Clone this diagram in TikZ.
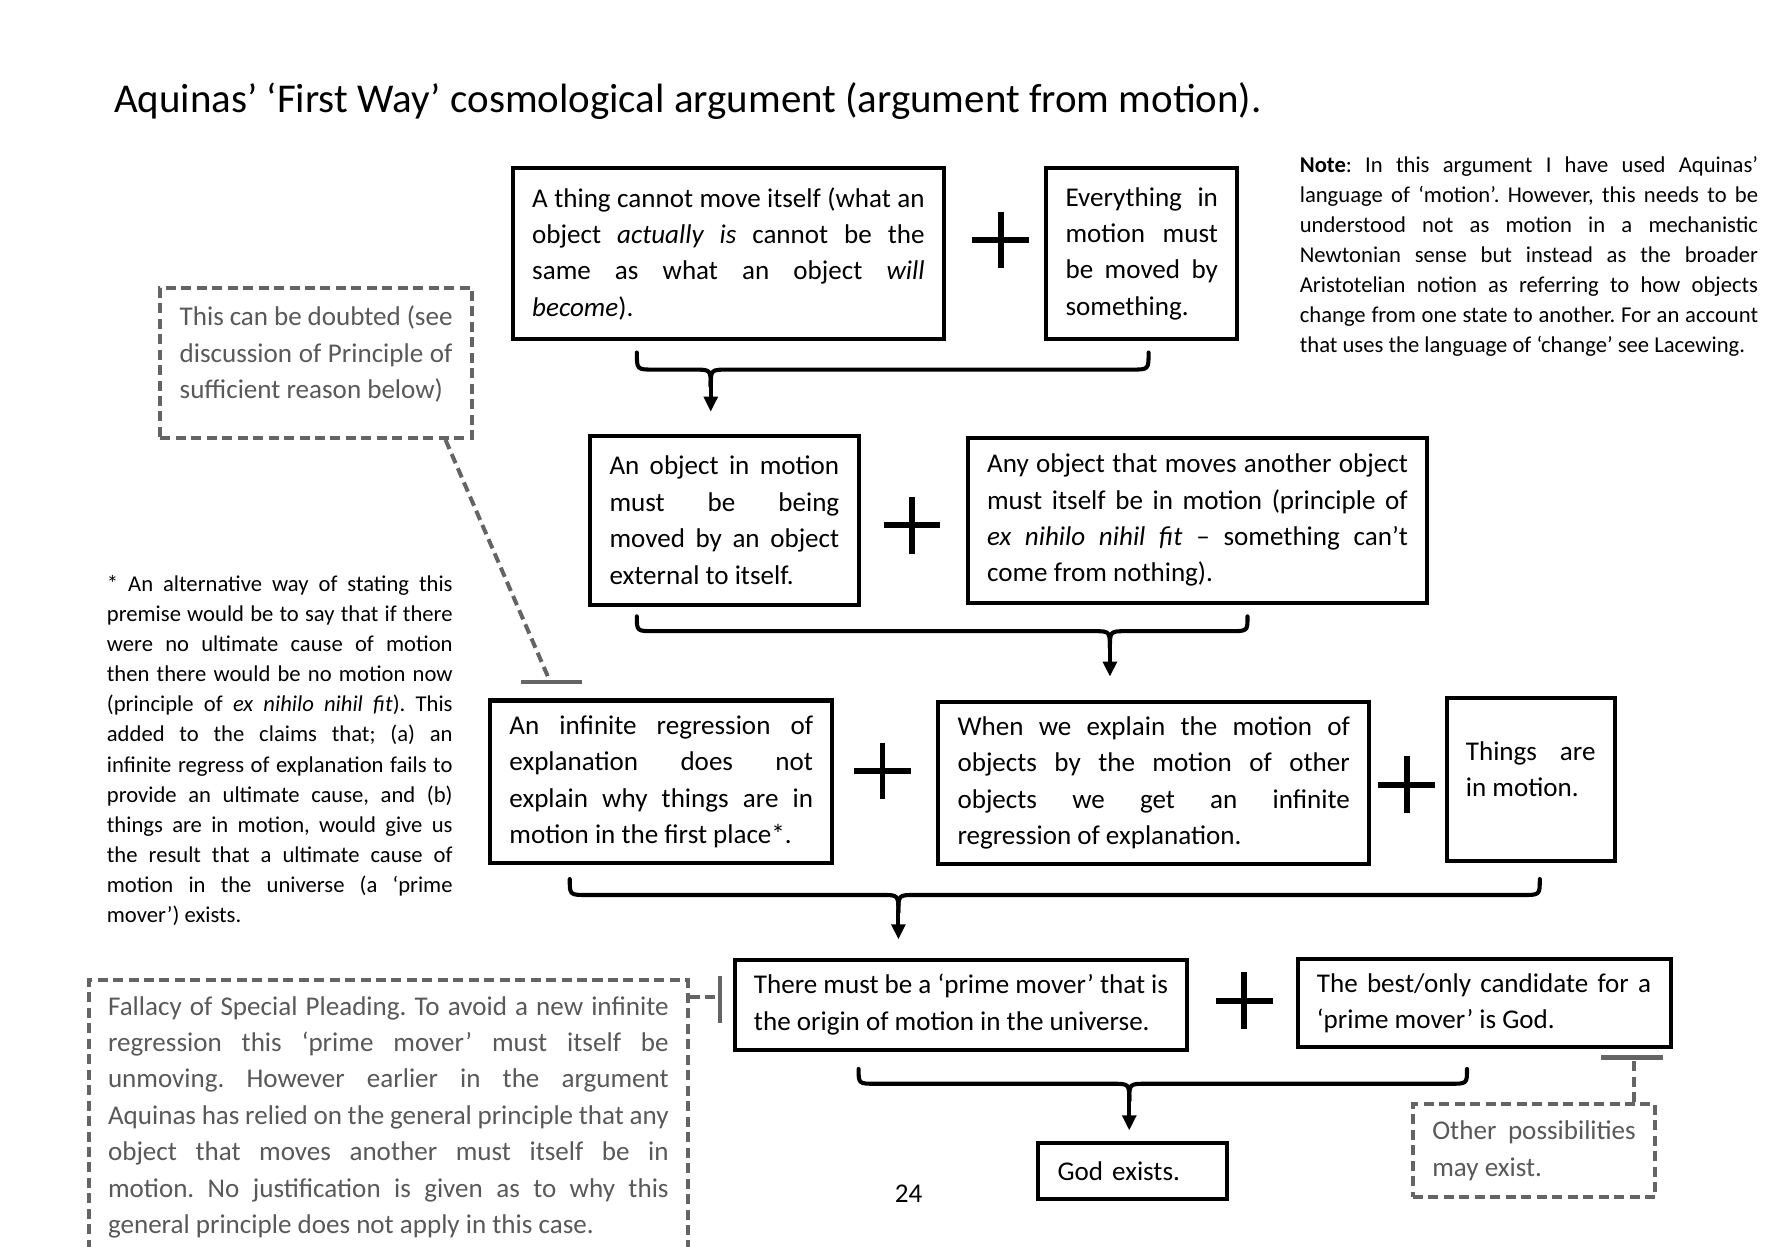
\documentclass[tikz,border=0pt]{standalone}
\usepackage{fontspec}
\setmainfont{Carlito}
\usetikzlibrary{arrows.meta,calc}
\definecolor{dg}{RGB}{89,89,89}
\definecolor{dl}{RGB}{100,100,100}
\newcommand\bodyfont{\fontsize{11.9pt}{16pt}\selectfont}
\newcommand\smallfont{\fontsize{9.95pt}{13.25pt}\selectfont}
\newcommand\titlefont{\fontsize{18pt}{21pt}\selectfont}
\newcommand\mybrace[6]{% xL xR yTop yMid xC yTip
  \draw[bracestyle] (#1,#3) .. controls (#1,#4) .. ($(#1,#4)+(15,0)$) -- ($(#5,#4)+(-15,0)$) .. controls (#5,#4) .. ($(#5,#4)+(0,15)$);
  \draw[bracestyle] (#2,#3) .. controls (#2,#4) .. ($(#2,#4)+(-15,0)$) -- ($(#5,#4)+(15,0)$) .. controls (#5,#4) .. ($(#5,#4)+(0,15)$);
  \draw[bracestyle,-{Triangle[length=6.6pt,width=6pt]}] ($(#5,#4)+(0,14)$) -- (#5,#6);
}
\newcommand\myplus[2]{%
  \draw[plusstyle] ($(#1,#2)+(-25,0)$) -- ($(#1,#2)+(25,0)$);
  \draw[plusstyle] ($(#1,#2)+(0,-25)$) -- ($(#1,#2)+(0,25)$);
}
\tolerance=10000
\hbadness=10000
\vbadness=10000
\hyphenpenalty=10000
\exhyphenpenalty=10000
\parindent=0pt
\frenchspacing
\begin{document}
\frenchspacing
\begin{tikzpicture}[x=0.5pt,y=-0.5pt,
  box/.style={draw=black, line width=1.8pt, inner xsep=8.5pt, inner ysep=0pt, align=justify, font=\bodyfont\frenchspacing},
  dbox/.style={draw=dl, dash pattern=on 4.4pt off 2.4pt, line width=1.75pt, inner xsep=8.5pt, inner ysep=0pt, align=justify, text=dg, font=\bodyfont\frenchspacing},
  plain/.style={inner sep=0pt, align=justify, font=\smallfont\frenchspacing},
  bracestyle/.style={line width=1.8pt, line cap=round, line join=round},
  plusstyle/.style={line width=2.6pt},
  dconn/.style={draw=dl, dash pattern=on 4.4pt off 2.4pt, line width=1.75pt},
  tbar/.style={draw=dl, line width=1.9pt}
]
\fill[white] (0,0) rectangle (1567,1096);
\useasboundingbox (0,0) rectangle (1567,1096);
\clip (0,0) rectangle (1567,1096);

% title
\node[inner sep=0pt, anchor=base west, font=\titlefont] (title) at (100,99)
  {Aquinas’ ‘First Way’ cosmological argument (argument from motion).};

% note
\node[plain, text width=201.5pt] (note) at (1344.5,225.5)
  {\textbf{Note}: In this argument I have used Aquinas’\linebreak
   language of ‘motion’. However, this needs to be\linebreak
   understood not as motion in a mechanistic\linebreak
   Newtonian sense but instead as the broader\linebreak
   Aristotelian notion as referring to how objects\linebreak
   change from one state to another. For an account\linebreak
   that uses the language of ‘change’ see Lacewing.};

% footnote
\node[plain, text width=152pt] (foot) at (246,660)
  {* An alternative way of stating this\linebreak
   premise would be to say that if there\linebreak
   were no ultimate cause of motion\linebreak
   then there would be no motion now\linebreak
   (principle of \textit{ex nihilo nihil fit}). This\linebreak
   added to the claims that; (a) an\linebreak
   infinite regress of explanation fails to\linebreak
   provide an ultimate cause, and (b)\linebreak
   things are in motion, would give us\linebreak
   the result that a ultimate cause of\linebreak
   motion in the universe (a ‘prime\linebreak
   mover’) exists.};

% row 1
\node[box, text width=172.5pt, minimum height=75pt] (b1) at (640.5,223)
  {A thing cannot move itself (what an\linebreak
   object \textit{actually is} cannot be the\linebreak
   same as what an object \textit{will}\linebreak
   \textit{become}).};
\node[box, text width=67pt, minimum height=75pt] (b2) at (1004,223)
  {Everything in\linebreak motion must\linebreak be moved by\linebreak something.};
\myplus{880}{211}
\mybrace{560}{1010}{310}{325}{625}{362}

% row 2
\node[box, text width=101pt, minimum height=74.5pt] (b3) at (637,457.5)
  {An object in motion\linebreak must be being\linebreak moved by an object\linebreak external to itself.};
\node[box, text width=185pt, minimum height=72.5pt] (b4) at (1053,457.5)
  {Any object that moves another object\linebreak
   must itself be in motion (principle of\linebreak
   \textit{ex nihilo nihil fit} – something can’t\linebreak
   come from nothing).};
\myplus{802}{462}
\mybrace{560}{1097}{542}{555}{976}{595}

% row 3
\node[box, text width=133.5pt, minimum height=71.5pt] (b5) at (581.5,687.5)
  {An infinite regression of\linebreak explanation does not\linebreak explain why things are in\linebreak motion in the first place*.};
\node[box, text width=172.5pt, minimum height=71.5pt] (b6) at (1014.5,688.5)
  {When we explain the motion of\linebreak objects by the motion of other\linebreak objects we get an infinite\linebreak regression of explanation.};
\node[box, minimum height=71.5pt] (b7) at (1346,685.5)
  {\parbox[c][71.5pt][t]{57pt}{\vspace*{19pt}Things are\linebreak in motion.}};
\myplus{776}{678}
\myplus{1237}{690}
\mybrace{501}{1354}{773}{787}{790}{826}

% row 4
\node[box, text width=182pt, minimum height=39.5pt] (b8) at (845,883.5)
  {There must be a ‘prime mover’ that is\linebreak the origin of motion in the universe.};
\node[box, text width=147pt, minimum height=39pt] (b9) at (1305,882)
  {The best/only candidate for a\linebreak ‘prime mover’ is God.};
\myplus{1094}{880}
\mybrace{755}{1290}{940}{953}{993}{994}

\node[box, text width=66pt, minimum height=24.5pt, align=left] (b10) at (996,1029.5) {God exists.};

% page number
\node[inner sep=0pt, font=\bodyfont] (pg) at (799,1050) {24};

% dashed comment boxes
\node[dbox, text width=120pt, minimum height=66pt] (d1) at (278,319)
  {This can be doubted (see\linebreak discussion of Principle of\linebreak sufficient reason below)\par\vspace*{7.5pt}};
\node[dbox, text width=246.5pt, minimum height=120.5pt] (d2) at (341.5,982.5)
  {Fallacy of Special Pleading. To avoid a new infinite\linebreak
   regression this ‘prime mover’ must itself be\linebreak
   unmoving. However earlier in the argument\linebreak
   Aquinas has relied on the general principle that any\linebreak
   object that moves another must itself be in\linebreak
   motion. No justification is given as to why this\linebreak
   general principle does not apply in this case.};
\node[dbox, text width=89.5pt, minimum height=41pt] (d3) at (1349,1012)
  {Other possibilities\linebreak may exist.};

% T-bar connectors
\coordinate (t1) at (484,600);
\draw[dconn] ($(d1.south east)+(-25,0)$) -- (t1);
\draw[tbar] ($(t1)+(-26,0)$) -- ($(t1)+(28,0)$);

\coordinate (t2) at (633,877);
\draw[dconn] (t2 -| d2.east) -- (t2);
\draw[tbar] ($(t2)+(0,-19)$) -- ($(t2)+(0,23)$);

\coordinate (t3) at (1437,930);
\draw[dconn] (t3 |- d3.north) -- (t3);
\draw[tbar] ($(t3)+(-29,0)$) -- ($(t3)+(25,0)$);
\end{tikzpicture}
\end{document}
